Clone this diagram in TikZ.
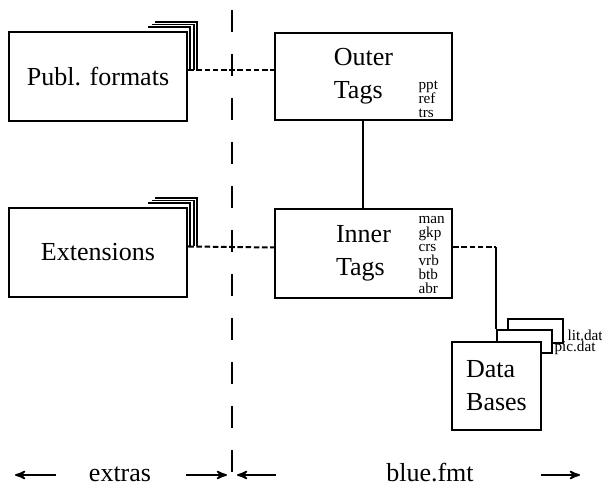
\documentclass[tikz,border=0pt]{standalone}
\usepackage{fontspec}
\setmainfont{Liberation Serif}
\usepackage{tikz}
\usetikzlibrary{arrows}

\begin{document}
\begin{tikzpicture}[x=0.5pt,y=-0.5pt,>=stealth',
    box/.style={draw, line width=1.2pt, fill=white, align=left, font=\fontsize{13}{16.5}\selectfont},
    card/.style={draw, line width=1.2pt, fill=white, inner sep=0pt},
    tags/.style={inner sep=0pt, align=left, font=\fontsize{7.6}{7}\selectfont},
    link/.style={line width=1pt, dash pattern=on 2.8pt off 1.3pt},
    divider/.style={line width=1pt, dash pattern=on 11.25pt off 10.75pt},
    spanarrow/.style={line width=0.85pt, ->}]

  \useasboundingbox (0,0) rectangle (602,486);

  \node[box, minimum width=89pt, minimum height=44.5pt] (publ) at (98,76.5) {Publ. formats};
  \node[box, minimum width=89pt, minimum height=44.5pt] (ext) at (98,252.5) {Extensions};
  \node[box, minimum width=88.5pt, minimum height=43.5pt] (outer) at (363.5,76.5) {Outer\\Tags};
  \node[box, minimum width=88.5pt, minimum height=44.5pt] (inner) at (363.5,253.5) {Inner\\Tags};

  \node[tags, anchor=south west] (outertags) at ([shift={(-35,-3)}]outer.south east) {ppt\\ref\\trs};
  \node[tags, anchor=south west] (innertags) at ([shift={(-35,-5)}]inner.south east) {man\\gkp\\crs\\vrb\\btb\\abr};

  % data files behind the data bases
  \node[card, minimum width=27.5pt, minimum height=12pt] (litdat) at (535.5,331) {};
  \node[card, minimum width=27.5pt, minimum height=11.5pt] (picdat) at (524.5,341.5) {};
  \node[box, minimum width=44.5pt, minimum height=44pt] (db) at (496.5,386) {Data\\Bases};
  \node[tags, anchor=base west] (litlabel) at ([shift={(3,-4)}]litdat.south east) {lit.dat};
  \node[tags, anchor=base west] (piclabel) at ([shift={(1,-3)}]picdat.south east) {pic.dat};

  % stacked corners
  \foreach \b in {publ,ext}
    \foreach \dx/\dy in {2/4, 5.5/6.2, 9/8.4}
      \draw[line width=0.9pt] ([shift={(-42+\dx,-\dy)}]\b.north east) -| ([shift={(\dx,-6)}]\b.east);

  \foreach \from/\to in {publ/outer, ext/inner}
    \draw[link] ([shift={(0,-6)}]\from.east) -- ([shift={(0,-6)}]\to.west);
  \draw[line width=1pt] (outer) -- (inner);
  \draw[link] ([shift={(0,-6)}]inner.east) -- ([shift={(0,-6)}]inner.east -| picdat.north west) coordinate (turn);
  \draw[line width=1pt] (turn) -- (picdat.north west);

  % divider and ranges
  \coordinate (divtop) at (232,10);
  \coordinate (divbot) at (232,475);
  \draw[divider] (divtop) -- (divbot);

  \node[inner sep=0pt, anchor=base, font=\fontsize{13}{16}\selectfont] (extras) at (120,482) {extras};
  \node[inner sep=0pt, anchor=base, font=\fontsize{13}{16}\selectfont] (bluefmt) at (430,482) {blue.fmt};
  \coordinate (lefttip) at (15,475);
  \coordinate (righttip) at (580,475);

  \draw[spanarrow] ([shift={(-33,0)}]extras.west |- lefttip) -- (lefttip);
  \draw[spanarrow] ([shift={(35,0)}]extras.east |- divbot) -- ([shift={(-5,0)}]divbot);
  \draw[spanarrow] ([shift={(-110,0)}]bluefmt.west |- divbot) -- ([shift={(5,0)}]divbot);
  \draw[spanarrow] ([shift={(67,0)}]bluefmt.east |- righttip) -- (righttip);

\end{tikzpicture}
\end{document}
